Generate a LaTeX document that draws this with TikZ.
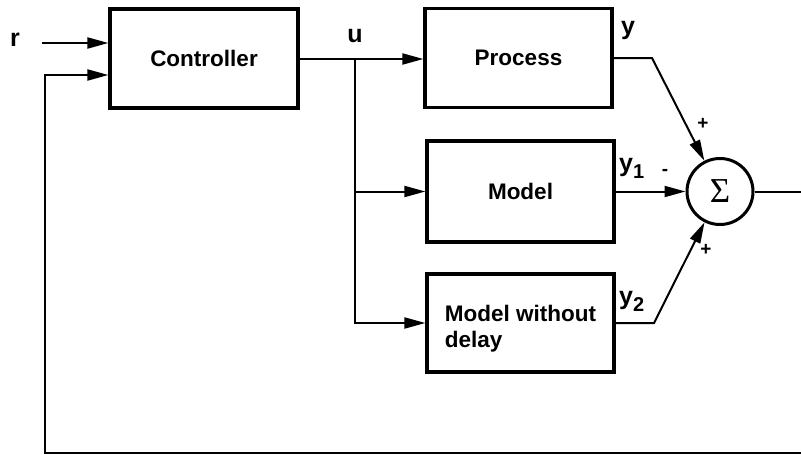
\documentclass[tikz,border=0pt]{standalone}
\usepackage{fontspec}
\setmainfont{Liberation Sans}
\newfontfamily\sigmafont{Liberation Serif}
\usetikzlibrary{arrows.meta}
\begin{document}
\begin{tikzpicture}[x=1pt,y=-1pt,
  blk/.style={draw,line width=3.2pt,rectangle,inner sep=0pt,minimum width=187pt,font=\fontsize{22.5}{26}\selectfont\bfseries},
  conn/.style={line width=2pt},
  arr/.style={conn,-{Triangle[length=21pt,width=11pt]}},
  lbl/.style={font=\fontsize{25}{28}\selectfont\bfseries,inner sep=0pt},
  sgn/.style={font=\fontsize{19}{20}\selectfont\bfseries,inner sep=0pt}]
\useasboundingbox (0,0) rectangle (801,455);
\node[blk,minimum height=99pt,minimum width=188pt] (ctrl) at (204,58.5) {Controller};
\node[blk,minimum height=99pt] (proc) at (518.5,58) {Process};
\node[blk,minimum height=101pt] (model) at (520.5,191.5) {Model};
\node[blk,minimum height=98pt] (mwd) at (520.5,323) {\raisebox{-6pt}[\height][\depth]{\begin{tabular}{@{}l@{}}Model without\\delay\end{tabular}}};
\node[draw,circle,line width=3pt,minimum size=66pt,inner sep=0pt,font=\sigmafont\fontsize{35}{36}\selectfont] (sum) at (720,191.5) {Σ};
% labels
\node[lbl] (lr) at (15,40) {r};
\node[lbl] (lu) at (355,36) {u};
\node[lbl] (ly) at (628,30) {y};
\node[lbl,anchor=west] (ly1) at (619,168) {y\raisebox{-7pt}{\fontsize{20}{20}\selectfont 1}};
\node[lbl,anchor=west] (ly2) at (619,301) {y\raisebox{-7pt}{\fontsize{20}{20}\selectfont 2}};
\node[sgn] (sm) at (665,172) {-};
\node[sgn] (sp1) at (703,124) {+};
\node[sgn] (sp2) at (706,250) {+};
% coordinates
\coordinate (rin) at (42,43);
\coordinate (br) at (355,59);
\coordinate (yk) at (652,58);
\coordinate (y2k) at (654,323);
\coordinate (fbr) at (812,191.5);
\coordinate (fbb) at (812,453);
\coordinate (fbl) at (45,453);
\coordinate (fbt) at (45,75);
% connectors
\draw[arr] (rin) -- (rin -| ctrl.west);
\draw[arr] (ctrl.east |- br) -- (proc.west |- br);
\draw[arr] (br) |- (model.west);
\draw[arr] (br) |- (mwd.west);
\draw[arr] (proc.east |- yk) -- (yk) -- (sum);
\draw[arr] (model.east) -- (sum.west);
\draw[arr] (mwd.east |- y2k) -- (y2k) -- (sum);
\draw[arr] (sum.east) -- (fbr) -- (fbb) -- (fbl) -- (fbt) -- (fbt -| ctrl.west);
\end{tikzpicture}
\end{document}
